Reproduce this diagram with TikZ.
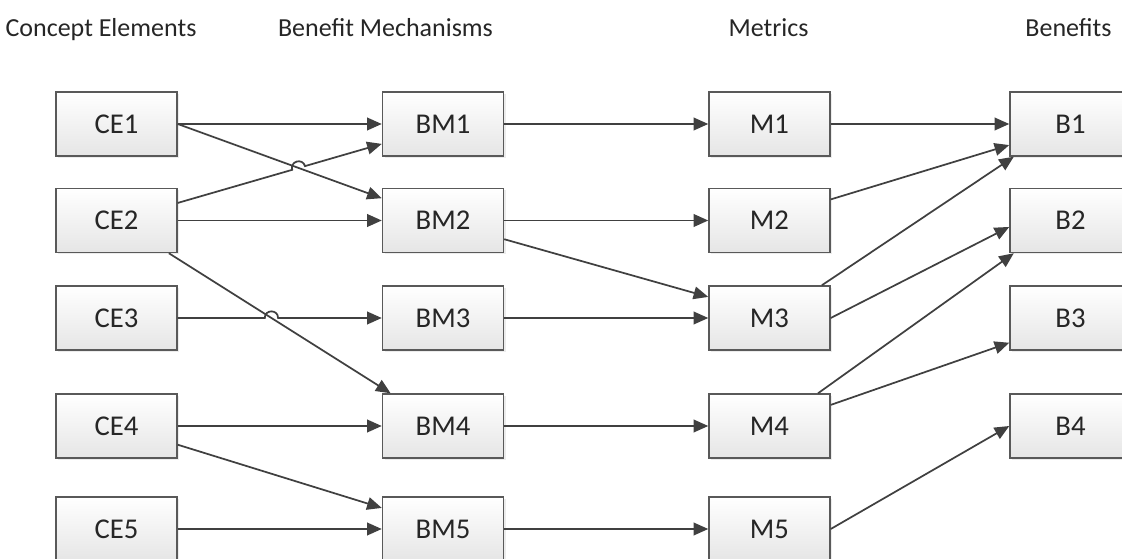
\documentclass[tikz,border=0pt]{standalone}
\usepackage{fontspec}
\setmainfont{Carlito}
\usepackage{xcolor}
\usetikzlibrary{positioning,shapes,arrows.meta,calc,intersections,shadows}
\definecolor{linegray}{HTML}{404040}
\definecolor{boxgray}{HTML}{595959}
\tikzset{
  blockbox/.style={draw=boxgray, line width=1.1pt, top color=white, bottom color=black!10,
    minimum width=90.75pt, minimum height=48pt, text=black!85, font=\fontsize{21.5}{24}\selectfont,
    drop shadow={shadow xshift=1.5pt, shadow yshift=-1.5pt, fill=black!15}},
  colhead/.style={anchor=base, text=black!85, font=\fontsize{19.5}{24}\selectfont},
  flow/.style={->, >={Triangle[length=11pt,width=9.5pt]}, draw=linegray, line width=1.3pt},
  hop/.style={bend left=90, looseness=1.7}
}
\begin{document}
\begin{tikzpicture}[x=0.75pt, y=-0.75pt]
\useasboundingbox (0,0) rectangle (1122,559);
\clip (0,0) rectangle (1122,559);
% column heads
\node[colhead] (hCE) at (101,37) {Concept Elements};
\node[colhead] (hBM) at (385.5,37) {Benefit Mechanisms};
\node[colhead] (hM) at (768.5,37) {Metrics};
\node[colhead] (hB) at (1068.5,37) {Benefits};
% boxes
\node[blockbox] (CE1) at (116.5,124) {CE1};
\node[blockbox] (CE2) at (116.5,220.5) {CE2};
\node[blockbox] (CE3) at (116.5,318) {CE3};
\node[blockbox] (CE4) at (116.5,426) {CE4};
\node[blockbox] (CE5) at (116.5,529) {CE5};
\node[blockbox] (BM1) at (443,124) {BM1};
\node[blockbox] (BM2) at (443,220.5) {BM2};
\node[blockbox] (BM3) at (443,318) {BM3};
\node[blockbox] (BM4) at (443,426) {BM4};
\node[blockbox] (BM5) at (443,529) {BM5};
\node[blockbox] (M1) at (769.5,124) {M1};
\node[blockbox] (M2) at (769.5,220.5) {M2};
\node[blockbox] (M3) at (769.5,318) {M3};
\node[blockbox] (M4) at (769.5,426) {M4};
\node[blockbox] (M5) at (769.5,529) {M5};
\node[blockbox] (B1) at (1070.5,124) {B1};
\node[blockbox] (B2) at (1070.5,220.5) {B2};
\node[blockbox] (B3) at (1070.5,318) {B3};
\node[blockbox] (B4) at (1070.5,426) {B4};
% concept elements -> mechanisms
\draw[flow] (CE1) -- (BM1);
\draw[flow, name path=ceA] (CE1.east) -- (BM2.160);
\draw[flow] (CE2) -- (BM2);
\draw[flow, name path=ceB] (CE2.-32) -- (BM4.148);
\path[name path=ceC] (CE2.16) -- (BM1.198);
\path[name path=ceD] (CE3) -- (BM3);
\path[name intersections={of=ceA and ceC, by=hopA}];
\path[name intersections={of=ceB and ceD, by=hopB}];
\draw[flow] (CE2.16) -- ($(hopA)!5pt!(CE2.16)$) to[hop] ($(hopA)!5pt!(BM1.198)$) -- (BM1.198);
\draw[flow] (CE3) -- ($(hopB)!5pt!(CE3)$) to[hop] ($(hopB)!5pt!(BM3)$) -- (BM3);
\draw[flow] (CE4) -- (BM4);
\draw[flow] (CE4.-17) -- (BM5.161);
\draw[flow] (CE5) -- (BM5);
% mechanisms -> metrics
\draw[flow] (BM1) -- (M1);
\draw[flow] (BM2) -- (M2);
\draw[flow] (BM2.-17) -- (M3.161);
\draw[flow] (BM3) -- (M3);
\draw[flow] (BM4) -- (M4);
\draw[flow] (BM5) -- (M5);
% metrics -> benefits
\draw[flow] (M1) -- (B1);
\draw[flow] (M2.19) -- (B1.199);
\draw[flow] (M3.32) -- (B1.210);
\draw[flow] (M3.east) -- (B2.186);
\draw[flow] (M4.34) -- (B2.210);
\draw[flow] (M4.19) -- (B3.202);
\draw[flow] (M5.east) -- (B4.west);
\end{tikzpicture}
\end{document}
